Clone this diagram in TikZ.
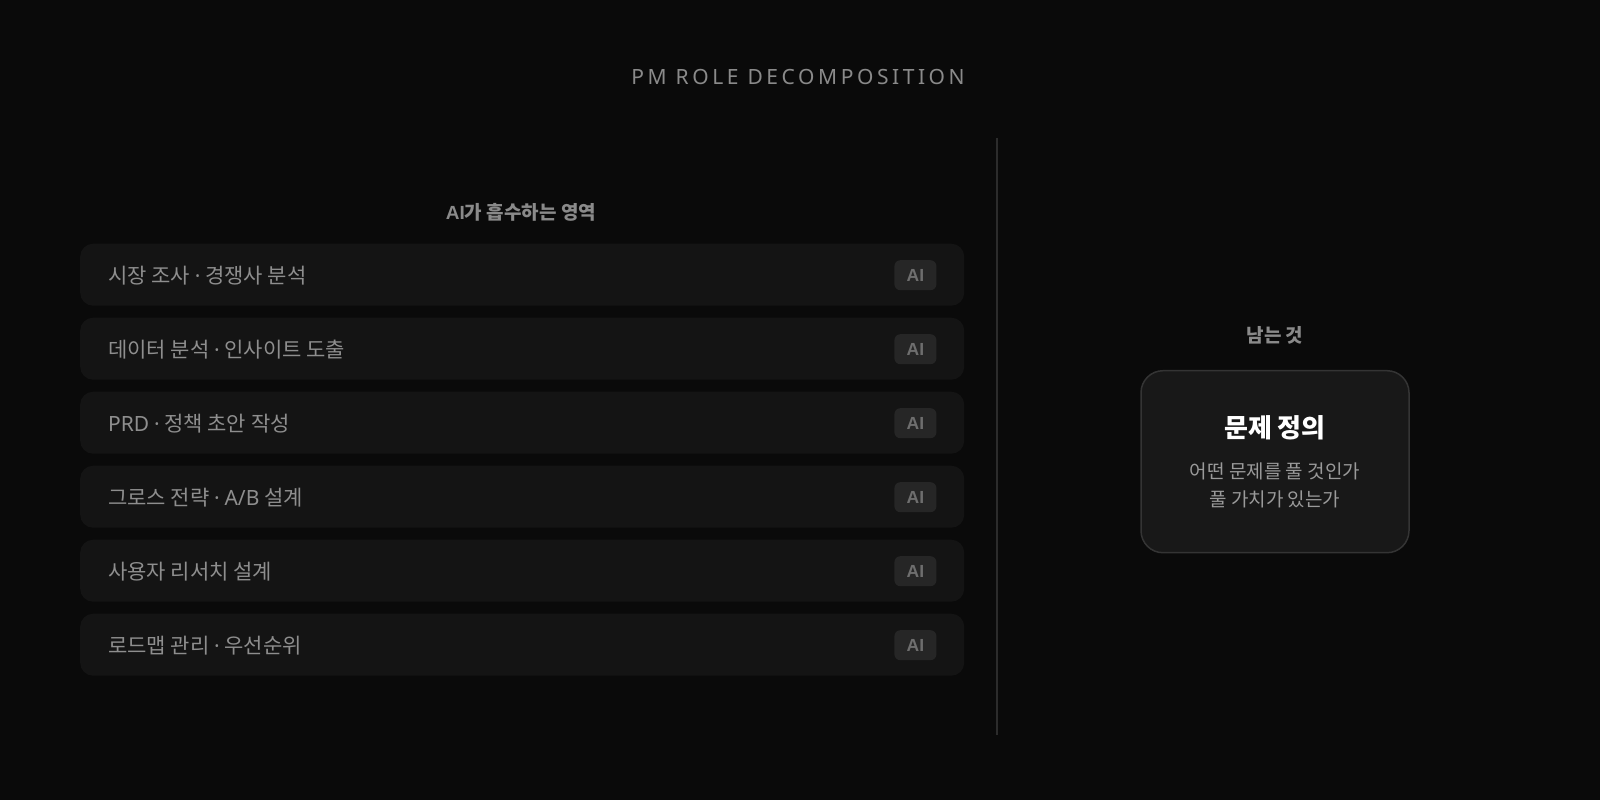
\documentclass[tikz,border=0pt]{standalone}
\usepackage{fontspec}
\setmainfont{Noto Sans CJK KR}
\newfontfamily\latinfont{Noto Sans}
\newfontfamily\boldlatin{Liberation Sans}
\newfontfamily\titlefont[LetterSpace=17]{Noto Sans}
\newcommand{\md}{{\latinfont ·}}
\definecolor{bgc}{HTML}{0A0A0A}
\definecolor{rowc}{HTML}{141414}
\definecolor{rowtext}{HTML}{8E8E8E}
\definecolor{headc}{HTML}{8A8A8A}
\definecolor{badgec}{HTML}{262626}
\definecolor{badgetext}{HTML}{6E6E6E}
\definecolor{linec}{HTML}{2C2C2C}
\definecolor{cardc}{HTML}{181818}
\definecolor{cardline}{HTML}{343434}
\definecolor{subc}{HTML}{9A9A9A}
\tikzset{
  rowbox/.style={fill=rowc, rounded corners=13pt, minimum width=884pt, minimum height=62pt, inner sep=0pt, anchor=north west},
  rowlabel/.style={anchor=west, text=rowtext, font=\fontsize{21}{24}\selectfont, inner sep=0pt},
  badge/.style={fill=badgec, rounded corners=6pt, minimum width=42pt, minimum height=30pt, inner sep=0pt, text=badgetext, font=\boldlatin\fontsize{17.5}{20}\selectfont\bfseries},
  header/.style={text=headc, font=\fontsize{19}{22}\selectfont\bfseries, inner sep=0pt},
  card/.style={fill=cardc, draw=cardline, line width=1.5pt, rounded corners=22pt, minimum width=268pt, minimum height=182pt, inner sep=0pt},
}
\begin{document}
\begin{tikzpicture}[x=1pt,y=-1pt]
\fill[bgc] (0,0) rectangle (1600,800);
\useasboundingbox (0,0) rectangle (1600,800);
\node[text=headc, font=\titlefont\fontsize{21}{24}\selectfont, inner sep=0pt] (title) at (798,77) {PM ROLE DECOMPOSITION};
\coordinate (dtop) at (997,138);
\coordinate (dbot) at (997,735);
\draw[linec, line width=2pt] (dtop) -- (dbot);
\node[header] (lhead) at (521,212) {{\boldlatin\bfseries AI}가 흡수하는 영역};
\foreach \i/\t in {1/{시장 조사 \md{} 경쟁사 분석}, 2/{데이터 분석 \md{} 인사이트 도출}, 3/{{\latinfont PRD} \md{} 정책 초안 작성}, 4/{그로스 전략 \md{} {\latinfont A/B} 설계}, 5/{사용자 리서치 설계}, 6/{로드맵 관리 \md{} 우선순위}} {
  \node[rowbox] (r\i) at (80,{243.5+74*(\i-1)}) {};
  \node[rowlabel] (l\i) at ([xshift=28pt,yshift=-1pt]r\i.west) {\t};
  \node[badge] (b\i) at ([xshift=-49pt,yshift=-0.5pt]r\i.east) {AI};
}
\node[header] (rhead) at (1275,335) {남는 것};
\node[card] (card) at (1275,461.7) {};
\node[text=white, font=\fontsize{26}{30}\selectfont\bfseries, inner sep=0pt] (ctitle) at (1275,428) {문제 정의};
\node[text=subc, font=\fontsize{19}{27.5}\selectfont, align=center, inner sep=0pt] (csub) at (1275,485.5) {어떤 문제를 풀 것인가\\풀 가치가 있는가};
\end{tikzpicture}
\end{document}
